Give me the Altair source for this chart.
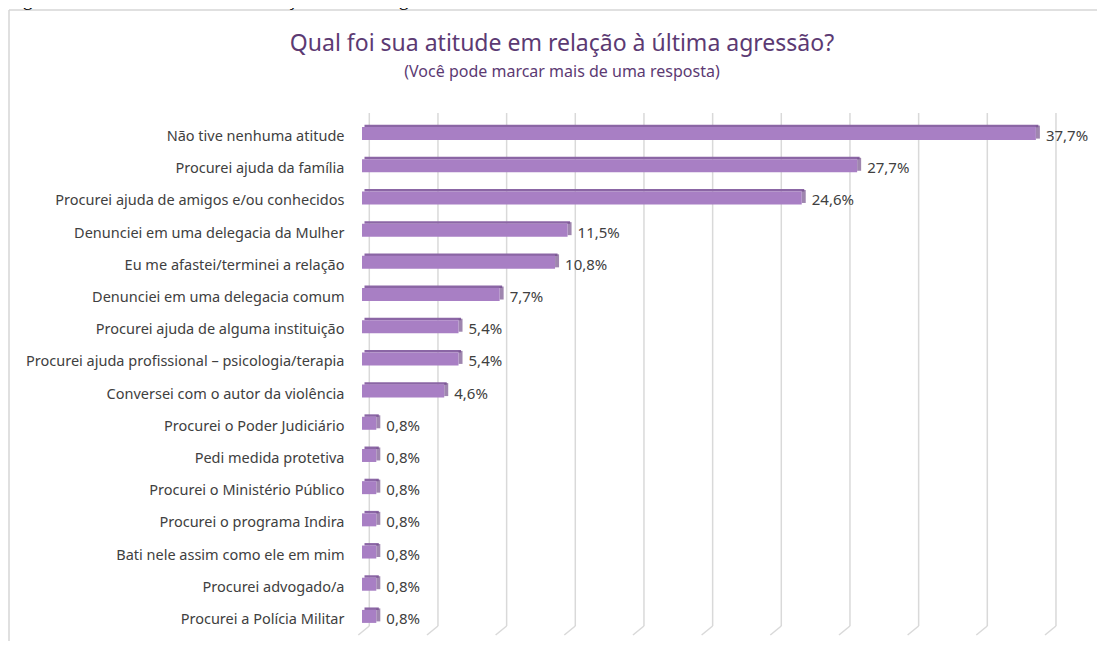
import altair as alt
import pandas as pd

categories = [
    "Não tive nenhuma atitude",
    "Procurei ajuda da família",
    "Procurei ajuda de amigos e/ou conhecidos",
    "Denunciei em uma delegacia da Mulher",
    "Eu me afastei/terminei a relação",
    "Denunciei em uma delegacia comum",
    "Procurei ajuda de alguma instituição",
    "Procurei ajuda profissional – psicologia/terapia",
    "Conversei com o autor da violência",
    "Procurei o Poder Judiciário",
    "Pedi medida protetiva",
    "Procurei o Ministério Público",
    "Procurei o programa Indira",
    "Bati nele assim como ele em mim",
    "Procurei advogado/a",
    "Procurei a Polícia Militar",
]
values = [37.7, 27.7, 24.6, 11.5, 10.8, 7.7, 5.4, 5.4, 4.6,
          0.8, 0.8, 0.8, 0.8, 0.8, 0.8, 0.8]
grid_ticks = [0, 4, 8, 12, 16, 20, 24, 28, 32, 36, 40]

title_text = "Qual foi sua atitude em relação à última agressão?"
subtitle_text = "(Você pode marcar mais de uma resposta)"
caption_text = "Figura 15 - Atitude tomada em relação à última agressão"

df = pd.DataFrame({
    "cat": categories,
    "val": values,
    "label": [f"{v:.1f}".replace(".", ",") + "%" for v in values],
})
grid_df = pd.DataFrame({"g": grid_ticks})
one = pd.DataFrame({"a": [0]})

FONT = "Noto Sans"
FACE = "#A87FC4"
TOP = "#8B66A5"
SIDE = "#76528D"
GRID = "#D9D9D9"
TITLE_C = "#5C3A73"

W, H = 715, 515

ysc = alt.Scale(domain=categories)
xsc = alt.Scale(domain=[0, 40], nice=False, zero=True)
Y = alt.Y("cat:N", scale=ysc, sort=categories,
          axis=alt.Axis(title=None, domain=False, ticks=False, grid=False,
                        labelFont=FONT, labelFontSize=14.5, labelColor="#404040",
                        labelPadding=18, labelOffset=4, labelLimit=400))
X = alt.X("val:Q", scale=xsc, axis=None)

base = alt.Chart(df)

top_face = base.mark_bar(color=TOP, size=2.5, yOffset=-7.2, xOffset=2.5, x2Offset=2.5).encode(y=Y, x=X)
side_face = base.mark_tick(color=SIDE, thickness=4, size=13, orient="vertical",
                           xOffset=2, yOffset=-1).encode(y=Y, x=X)
front = base.mark_bar(color=FACE, size=13, yOffset=0.5).encode(y=Y, x=X)
vlabels = base.mark_text(align="left", baseline="middle", dx=10, dy=3,
                         font=FONT, fontSize=15, color="#404040").encode(
    y=Y, x=X, text="label:N")

gsc = alt.Scale(domain=[-0.425, 41.225], nice=False, zero=False)
grid_v = alt.Chart(grid_df).mark_rule(color=GRID, strokeWidth=1.5).encode(
    x=alt.X("g:Q", scale=gsc, axis=None),
    y=alt.value(-4),
    y2=alt.value(H - 6),
)
grid_s = alt.Chart(grid_df).mark_rule(color=GRID, strokeWidth=1.5, x2Offset=-11).encode(
    x=alt.X("g:Q", scale=gsc, axis=None),
    x2=alt.X2("g:Q"),
    y=alt.value(H - 6),
    y2=alt.value(H + 3),
)

box_top = alt.Chart(one).mark_rule(stroke="#D6D6D6", strokeWidth=1.5).encode(
    x=alt.value(-353), x2=alt.value(W + 200), y=alt.value(-107),
)
box_left = alt.Chart(one).mark_rule(stroke="#D6D6D6", strokeWidth=1.5).encode(
    x=alt.value(-353), y=alt.value(-107), y2=alt.value(H + 200),
)
caption = alt.Chart(one).mark_text(align="left", baseline="alphabetic", font="Liberation Serif",
                                   fontSize=20, color="#000000").encode(
    x=alt.value(-356), y=alt.value(-112), text=alt.value(caption_text),
)
title = alt.Chart(one).mark_text(align="center", baseline="alphabetic", font=FONT,
                                 fontSize=23, color=TITLE_C).encode(
    x=alt.value(200), y=alt.value(-66), text=alt.value(title_text),
)
subtitle = alt.Chart(one).mark_text(align="center", baseline="alphabetic", font=FONT,
                                    fontSize=16, color=TITLE_C).encode(
    x=alt.value(200), y=alt.value(-40), text=alt.value(subtitle_text),
)

grid = alt.layer(grid_v, grid_s)
bars = alt.layer(top_face, side_face, front, vlabels)

chart = alt.layer(box_top, box_left, caption, title, subtitle, grid, bars).resolve_scale(
    x="independent").properties(
    width=W, height=H,
    background="white",
    autosize=alt.AutoSizeParams(type="none"),
    padding={"left": 354, "top": 109, "right": 20, "bottom": 9},
).configure_view(strokeWidth=0, stroke=None)

chart.save("out.html", embed_options={"renderer": "svg", "actions": False})
